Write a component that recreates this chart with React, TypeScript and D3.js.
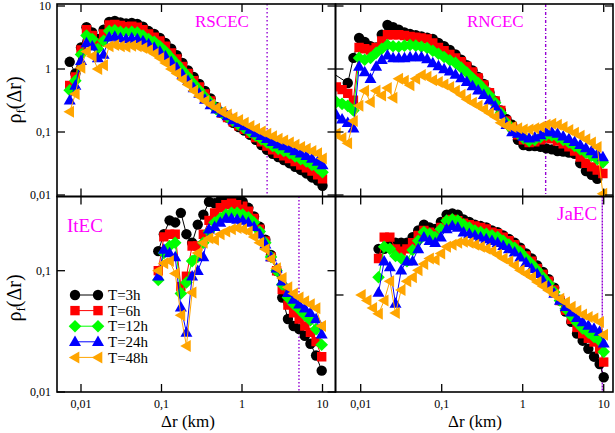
import React from "react";
import * as d3 from "d3";

// ---------- series meta ----------
const seriesLabels = ["T=3h", "T=6h", "T=12h", "T=24h", "T=48h"];
const seriesColors = ["#000000", "#ff0000", "#00ff00", "#0000ff", "#ffa500"];
const seriesShapes = ["circle", "square", "diamond", "triangleUp", "triangleLeft"];

// ---------- RSCEC (top-left) ----------
const rscecDr = [0.00724, 0.00851, 0.01, 0.0117, 0.0138, 0.0162, 0.0191, 0.0224, 0.0263, 0.0309, 0.0363, 0.0427, 0.0501, 0.0589, 0.0692, 0.0813, 0.0955, 0.112, 0.132, 0.155, 0.182, 0.214, 0.251, 0.295, 0.347, 0.407, 0.479, 0.562, 0.661, 0.776, 0.912, 1.07, 1.26, 1.48, 1.74, 2.04, 2.4, 2.82, 3.31, 3.89, 4.57, 5.37, 6.31, 7.41, 8.71, 10.0];
const rscecT3 = [1.3, 0.85, 2.2, 4.6, 3.8, 3.0, 4.2, 5.6, 5.8, 5.5, 5.3, 5.4, 5.2, 4.7, 4.0, 3.6, 3.1, 2.6, 2.1, 1.65, 1.25, 0.95, 0.75, 0.58, 0.45, 0.34, 0.25, 0.2, 0.17, 0.14, 0.12, 0.105, 0.09, 0.075, 0.062, 0.052, 0.045, 0.04, 0.036, 0.032, 0.028, 0.025, 0.022, 0.019, 0.017, 0.014];
const rscecT6 = [0.55, 0.75, 2.0, 4.2, 3.4, 2.6, 3.6, 5.0, 5.1, 4.9, 4.7, 4.8, 4.6, 4.2, 3.6, 3.2, 2.8, 2.3, 1.8, 1.45, 1.1, 0.85, 0.65, 0.52, 0.4, 0.31, 0.24, 0.2, 0.17, 0.145, 0.125, 0.11, 0.095, 0.082, 0.07, 0.06, 0.052, 0.046, 0.042, 0.038, 0.034, 0.03, 0.027, 0.024, 0.021, 0.018];
const rscecT12 = [0.46, 0.65, 1.7, 3.4, 3.0, 2.1, 2.8, 4.0, 4.1, 3.9, 3.8, 3.9, 3.8, 3.4, 3.0, 2.7, 2.3, 1.9, 1.5, 1.2, 0.95, 0.75, 0.58, 0.46, 0.36, 0.29, 0.23, 0.2, 0.175, 0.15, 0.13, 0.115, 0.1, 0.088, 0.077, 0.068, 0.06, 0.054, 0.05, 0.046, 0.041, 0.037, 0.034, 0.03, 0.027, 0.023];
const rscecT24 = [0.32, 0.55, 1.35, 2.6, 2.3, 1.5, 1.7, 3.2, 3.3, 3.1, 3.0, 3.1, 3.0, 2.8, 2.5, 2.2, 1.9, 1.6, 1.3, 1.05, 0.82, 0.65, 0.5, 0.41, 0.33, 0.27, 0.23, 0.2, 0.18, 0.155, 0.14, 0.125, 0.11, 0.097, 0.087, 0.078, 0.07, 0.064, 0.06, 0.055, 0.05, 0.046, 0.042, 0.038, 0.034, 0.03];
const rscecT48 = [0.21, 0.4, 1.05, 1.9, 1.6, 1.0, 1.15, 2.3, 2.4, 2.3, 2.25, 2.35, 2.3, 2.15, 2.0, 1.75, 1.5, 1.25, 1.0, 0.85, 0.68, 0.56, 0.45, 0.37, 0.31, 0.27, 0.24, 0.21, 0.19, 0.17, 0.155, 0.14, 0.125, 0.113, 0.102, 0.094, 0.086, 0.078, 0.073, 0.068, 0.063, 0.058, 0.054, 0.05, 0.046, 0.038];

// ---------- RNCEC (top-right) ----------
const rncecDr = [0.00427, 0.00501, 0.00589, 0.00692, 0.00813, 0.00955, 0.0112, 0.0132, 0.0155, 0.0182, 0.0214, 0.0251, 0.0295, 0.0347, 0.0407, 0.0479, 0.0562, 0.0661, 0.0776, 0.0912, 0.107, 0.126, 0.148, 0.174, 0.204, 0.24, 0.282, 0.331, 0.389, 0.457, 0.537, 0.631, 0.741, 0.871, 1.02, 1.2, 1.41, 1.66, 1.95, 2.29, 2.69, 3.16, 3.72, 4.37, 5.13, 6.03, 7.08, 8.32, 9.77];
const rncecT3 = [0.9, null, null, 0.6, 1.5, 3.1, 2.7, 2.3, 2.2, 3.5, 5.0, 4.6, 4.2, 3.8, 3.6, 3.45, 3.3, 3.15, 3.0, 2.6, 2.3, 2.0, 1.7, 1.4, 1.15, 0.95, 0.75, 0.58, 0.42, 0.31, 0.22, 0.16, 0.13, 0.075, 0.062, 0.06, 0.06, 0.058, 0.055, 0.053, 0.05, 0.049, 0.047, 0.045, 0.032, 0.024, 0.021, 0.018, null];
const rncecT6 = [null, 0.52, 0.47, 0.41, 0.32, 2.2, 2.1, 2.0, 2.2, 2.8, 3.5, 3.5, 3.5, 3.4, 3.3, 3.2, 3.1, 3.0, 2.6, 2.2, 1.95, 1.7, 1.5, 1.3, 1.1, 0.9, 0.72, 0.56, 0.42, 0.31, 0.22, 0.15, 0.12, 0.09, 0.075, 0.068, 0.07, 0.075, 0.08, 0.078, 0.072, 0.065, 0.058, 0.05, 0.04, 0.032, 0.028, 0.025, 0.022];
const rncecT12 = [null, 0.3, 0.28, 0.26, 0.22, 1.5, 1.4, 1.5, 1.8, 2.1, 2.4, 2.3, 2.25, 2.35, 2.4, 2.35, 2.25, 2.15, 1.95, 1.75, 1.55, 1.38, 1.25, 1.05, 0.88, 0.72, 0.6, 0.48, 0.38, 0.29, 0.2, 0.14, 0.11, 0.095, 0.08, 0.072, 0.075, 0.083, 0.09, 0.088, 0.083, 0.075, 0.068, 0.06, 0.053, 0.047, 0.042, 0.037, 0.033];
const rncecT24 = [null, 0.186, 0.16, 0.14, 0.115, 1.1, 0.9, 0.7, 1.1, 1.4, 1.65, 1.5, 1.5, 1.5, 1.55, 1.55, 1.55, 1.45, 1.25, 1.12, 1.0, 0.92, 0.82, 0.72, 0.63, 0.54, 0.46, 0.39, 0.32, 0.26, 0.19, 0.13, 0.1, 0.095, 0.085, 0.08, 0.083, 0.09, 0.1, 0.1, 0.095, 0.086, 0.078, 0.07, 0.063, 0.056, 0.05, 0.045, 0.04];
const rncecT48 = [null, 0.095, 0.08, 0.066, 0.15, 0.26, 0.45, 0.3, 0.45, 0.38, 0.5, 0.35, 0.7, 0.65, 0.55, 0.7, 0.8, 0.75, 0.66, 0.62, 0.57, 0.52, 0.45, 0.39, 0.33, 0.29, 0.26, 0.23, 0.2, 0.175, 0.14, 0.125, 0.12, 0.115, 0.11, 0.11, 0.115, 0.12, 0.13, 0.135, 0.13, 0.12, 0.108, 0.097, 0.087, 0.077, 0.068, 0.058, 0.0105];

// ---------- ItEC (bottom-left) ----------
const itecDr = [0.0912, 0.107, 0.126, 0.148, 0.174, 0.204, 0.24, 0.282, 0.331, 0.389, 0.457, 0.537, 0.631, 0.741, 0.871, 1.02, 1.2, 1.41, 1.66, 1.95, 2.29, 2.69, 3.16, 3.72, 4.37, 5.13, 6.03, 7.08, 8.32, 9.77];
const itecT3 = [0.145, 0.2, 0.26, 0.25, 0.3, 0.2, 0.17, 0.24, 0.29, 0.37, 0.36, 0.38, 0.39, 0.4, 0.39, 0.37, 0.33, 0.28, 0.23, 0.18, 0.135, 0.1, 0.06, 0.04, 0.035, 0.033, 0.029, 0.025, 0.02, 0.015];
const itecT6 = [0.1, 0.19, 0.2, 0.2, 0.074, 0.09, 0.16, 0.16, 0.2, 0.26, 0.3, 0.33, 0.35, 0.36, 0.35, 0.34, 0.31, 0.27, 0.22, 0.175, 0.13, 0.1, 0.07, 0.052, 0.045, 0.04, 0.035, 0.031, 0.026, 0.0195];
const itecT12 = [0.084, 0.14, 0.16, 0.17, 0.065, 0.08, 0.12, 0.13, 0.17, 0.21, 0.25, 0.27, 0.29, 0.3, 0.3, 0.29, 0.275, 0.25, 0.21, 0.17, 0.13, 0.1, 0.077, 0.06, 0.053, 0.048, 0.043, 0.039, 0.033, 0.0245];
const itecT24 = [0.09, 0.15, 0.14, 0.13, 0.05, 0.031, 0.09, 0.1, 0.13, 0.22, 0.23, 0.25, 0.27, 0.27, 0.265, 0.26, 0.25, 0.23, 0.2, 0.165, 0.13, 0.105, 0.082, 0.066, 0.058, 0.053, 0.049, 0.045, 0.04, 0.03];
const itecT48 = [0.1, 0.115, 0.12, 0.095, 0.043, 0.024, 0.066, 0.14, 0.17, 0.185, 0.18, 0.2, 0.21, 0.22, 0.225, 0.22, 0.21, 0.19, 0.17, 0.15, 0.125, 0.105, 0.087, 0.073, 0.065, 0.06, 0.056, 0.053, 0.049, 0.035];

// ---------- JaEC (bottom-right) ----------
const jaecDr = [0.0102, 0.012, 0.0141, 0.0166, 0.0195, 0.0229, 0.0269, 0.0316, 0.0372, 0.0437, 0.0513, 0.0603, 0.0708, 0.0832, 0.0977, 0.115, 0.135, 0.158, 0.186, 0.219, 0.257, 0.302, 0.355, 0.417, 0.49, 0.575, 0.676, 0.794, 0.933, 1.1, 1.29, 1.51, 1.78, 2.09, 2.45, 2.88, 3.39, 3.98, 4.68, 5.5, 6.46, 7.59, 8.91, 10.0];
const jaecT3 = [null, null, null, 0.24, 0.24, 0.26, 0.27, 0.27, 0.27, 0.3, 0.34, 0.38, 0.36, 0.35, 0.4, 0.46, 0.47, 0.46, 0.42, 0.4, 0.38, 0.37, 0.36, 0.34, 0.33, 0.31, 0.29, 0.27, 0.245, 0.22, 0.2, 0.175, 0.155, 0.135, 0.115, 0.09, 0.073, 0.06, 0.048, 0.042, 0.036, 0.031, 0.027, 0.021];
const jaecT6 = [null, null, null, 0.2, 0.3, 0.3, 0.24, 0.23, 0.24, 0.27, 0.31, 0.34, 0.33, 0.32, 0.36, 0.4, 0.42, 0.41, 0.39, 0.38, 0.37, 0.36, 0.35, 0.33, 0.32, 0.3, 0.28, 0.26, 0.235, 0.21, 0.19, 0.165, 0.148, 0.13, 0.11, 0.09, 0.075, 0.063, 0.054, 0.048, 0.044, 0.041, 0.036, 0.028];
const jaecT12 = [null, null, null, 0.14, 0.25, 0.24, 0.21, 0.2, 0.19, 0.235, 0.28, 0.33, 0.32, 0.3, 0.35, 0.41, 0.42, 0.41, 0.38, 0.36, 0.34, 0.33, 0.32, 0.31, 0.3, 0.28, 0.26, 0.245, 0.225, 0.2, 0.18, 0.16, 0.14, 0.124, 0.106, 0.09, 0.077, 0.067, 0.059, 0.053, 0.049, 0.045, 0.042, 0.034];
const jaecT24 = [null, null, null, 0.105, 0.19, 0.17, 0.085, 0.16, 0.19, 0.19, 0.24, 0.3, 0.28, 0.27, 0.3, 0.35, 0.37, 0.36, 0.33, 0.32, 0.31, 0.3, 0.29, 0.28, 0.27, 0.255, 0.24, 0.225, 0.205, 0.185, 0.165, 0.15, 0.132, 0.118, 0.103, 0.09, 0.08, 0.072, 0.065, 0.06, 0.056, 0.053, 0.05, 0.04];
const jaecT48 = [0.1, 0.09, 0.078, 0.07, 0.09, 0.13, 0.071, 0.11, 0.13, 0.14, 0.16, 0.18, 0.2, 0.195, 0.22, 0.25, 0.26, 0.27, 0.275, 0.27, 0.26, 0.25, 0.24, 0.23, 0.215, 0.2, 0.19, 0.175, 0.16, 0.15, 0.14, 0.128, 0.118, 0.109, 0.1, 0.093, 0.087, 0.08, 0.074, 0.069, 0.066, 0.064, 0.06, 0.047];

// ---------- ticks / annotations ----------
const xTicks = [0.01, 0.1, 1, 10];
const yTicksTop = [0.01, 0.1, 1, 10];
const yTicksBL = [0.01, 0.1];
const yTicksBR = [0.1];
const cutoffs = [2.05, 1.92, 5.1, 9.6];
const panelNames = ["RSCEC", "RNCEC", "ItEC", "JaEC"];

const FONT = "'Liberation Serif', 'DejaVu Serif', 'Times New Roman', serif";
const fmt = (v: number) => String(v).replace(".", ",");

function markerPath(shape: string): string {
  switch (shape) {
    case "circle":
      return "M5.2,0A5.2,5.2,0,1,1,-5.2,0A5.2,5.2,0,1,1,5.2,0Z";
    case "square":
      return "M-4.7,-4.7L4.7,-4.7L4.7,4.7L-4.7,4.7Z";
    case "diamond":
      return "M0,-6.3L6.3,0L0,6.3L-6.3,0Z";
    case "triangleUp":
      return "M0,-6.2L6,4.3L-6,4.3Z";
    default:
      return "M-6.2,0L4.3,-6L4.3,6Z";
  }
}

type PanelCfg = {
  key: string;
  name: string;
  dr: number[];
  series: (number | null)[][];
  x0: number; x1: number; y0: number; y1: number;
  xDomain: [number, number];
  yDomain: [number, number];
  yTicks: number[];
  cutoff: number;
  cutDash: string;
  labelX: number; labelY: number; labelSize: number;
  showYLabels: boolean; showXLabels: boolean;
};

const panels: PanelCfg[] = [
  {
    key: "tl", name: panelNames[0], dr: rscecDr,
    series: [rscecT3, rscecT6, rscecT12, rscecT24, rscecT48],
    x0: 57, x1: 335.5, y0: 4, y1: 196.5,
    xDomain: [0.005034, 14.5], yDomain: [0.009467, 10.76],
    yTicks: yTicksTop, cutoff: cutoffs[0], cutDash: "1.5,2.5",
    labelX: 195, labelY: 27, labelSize: 17,
    showYLabels: true, showXLabels: false,
  },
  {
    key: "tr", name: panelNames[1], dr: rncecDr,
    series: [rncecT3, rncecT6, rncecT12, rncecT24, rncecT48],
    x0: 335.5, x1: 613, y0: 4, y1: 196.5,
    xDomain: [0.004885, 13.02], yDomain: [0.009467, 10.76],
    yTicks: yTicksTop, cutoff: cutoffs[1], cutDash: "3,2,1,2",
    labelX: 467, labelY: 27, labelSize: 17,
    showYLabels: false, showXLabels: false,
  },
  {
    key: "bl", name: panelNames[2], dr: itecDr,
    series: [itecT3, itecT6, itecT12, itecT24, itecT48],
    x0: 57, x1: 335.5, y0: 196.5, y1: 392,
    xDomain: [0.005034, 14.5], yDomain: [0.01, 0.409],
    yTicks: yTicksBL, cutoff: cutoffs[2], cutDash: "1.5,2",
    labelX: 67, labelY: 232, labelSize: 19,
    showYLabels: true, showXLabels: true,
  },
  {
    key: "br", name: panelNames[3], dr: jaecDr,
    series: [jaecT3, jaecT6, jaecT12, jaecT24, jaecT48],
    x0: 335.5, x1: 613, y0: 196.5, y1: 392,
    xDomain: [0.004885, 13.02], yDomain: [0.01586, 0.6486],
    yTicks: yTicksBR, cutoff: cutoffs[3], cutDash: "2,1",
    labelX: 557, labelY: 220, labelSize: 19,
    showYLabels: false, showXLabels: true,
  },
];

function Panel({ p }: { p: PanelCfg }) {
  const x = d3.scaleLog().domain(p.xDomain).range([p.x0, p.x1]);
  const y = d3.scaleLog().domain(p.yDomain).range([p.y1, p.y0]);
  const clipId = `clip-${p.key}`;
  const tickLen = 8;
  const line = d3
    .line<[number, number]>()
    .x((d) => x(d[0]))
    .y((d) => y(d[1]));
  return (
    <g>
      <defs>
        <clipPath id={clipId}>
          <rect x={p.x0} y={p.y0} width={p.x1 - p.x0} height={p.y1 - p.y0} />
        </clipPath>
      </defs>
      <g clipPath={`url(#${clipId})`}>
        <line
          x1={x(p.cutoff)} x2={x(p.cutoff)} y1={p.y0} y2={p.y1}
          stroke="#9400d3" strokeWidth={1.4} strokeDasharray={p.cutDash}
        />
        {p.series.map((vals, si) => {
          const pts: [number, number][] = [];
          vals.forEach((v, i) => {
            if (v !== null && v !== undefined) pts.push([p.dr[i], v]);
          });
          return (
            <g key={si}>
              <path d={line(pts) || ""} fill="none" stroke={seriesColors[si]} strokeWidth={1} />
              {pts.map((d, i) => (
                <path
                  key={i}
                  d={markerPath(seriesShapes[si])}
                  transform={`translate(${x(d[0])},${y(d[1])})`}
                  fill={seriesColors[si]}
                />
              ))}
            </g>
          );
        })}
      </g>
      {xTicks.map((t) => (
        <g key={"xt" + t}>
          <line x1={x(t)} x2={x(t)} y1={p.y1} y2={p.y1 - tickLen} stroke="#000" strokeWidth={1.3} />
          <line x1={x(t)} x2={x(t)} y1={p.y0} y2={p.y0 + tickLen} stroke="#000" strokeWidth={1.3} />
          {p.showXLabels && (
            <text x={x(t)} y={p.y1 + 16} textAnchor="middle" fontFamily={FONT} fontSize={12}>
              {fmt(t)}
            </text>
          )}
        </g>
      ))}
      {p.yTicks.map((t) => (
        <g key={"yt" + t}>
          <line x1={p.x0} x2={p.x0 + tickLen} y1={y(t)} y2={y(t)} stroke="#000" strokeWidth={1.3} />
          <line x1={p.x1} x2={p.x1 - tickLen} y1={y(t)} y2={y(t)} stroke="#000" strokeWidth={1.3} />
          {p.showYLabels && (
            <text x={p.x0 - 6} y={y(t)} dy="0.35em" textAnchor="end" fontFamily={FONT} fontSize={12}>
              {fmt(t)}
            </text>
          )}
        </g>
      ))}
      <rect
        x={p.x0} y={p.y0} width={p.x1 - p.x0} height={p.y1 - p.y0}
        fill="none" stroke="#000" strokeWidth={1.6}
      />
      <text x={p.labelX} y={p.labelY} fontFamily={FONT} fontSize={p.labelSize} fill="#ff00ff">
        {p.name}
      </text>
    </g>
  );
}

function Legend() {
  const x0 = 75;
  const x1 = 98;
  const y0 = 295;
  const dy = 15.6;
  return (
    <g>
      {seriesLabels.map((lab, i) => {
        const yy = y0 + i * dy;
        return (
          <g key={lab}>
            <line x1={x0} x2={x1} y1={yy} y2={yy} stroke={seriesColors[i]} strokeWidth={1} />
            <path d={markerPath(seriesShapes[i])} transform={`translate(${x0},${yy})`} fill={seriesColors[i]} />
            <path d={markerPath(seriesShapes[i])} transform={`translate(${x1},${yy})`} fill={seriesColors[i]} />
            <text x={108} y={yy} dy="0.35em" fontFamily={FONT} fontSize={15}>
              {lab}
            </text>
          </g>
        );
      })}
    </g>
  );
}

function YLabel({ cx, cy }: { cx: number; cy: number }) {
  return (
    <text
      transform={`translate(${cx},${cy}) rotate(-90)`}
      textAnchor="middle"
      dy="0.35em"
      fontFamily={FONT}
      fontSize={20}
    >
      ρ<tspan fontSize={13} dy="4">f</tspan>
      <tspan dy="-4">(Δr)</tspan>
    </text>
  );
}

export default function App() {
  return (
    <svg
      width={615}
      height={433}
      style={{ position: "absolute", left: 0, top: 0, background: "#fff" }}
    >
      <rect x={0} y={0} width={615} height={433} fill="#fff" />
      {panels.map((p) => (
        <Panel key={p.key} p={p} />
      ))}
      <Legend />
      <YLabel cx={14} cy={100} />
      <YLabel cx={14} cy={298} />
      <text x={188} y={427} textAnchor="middle" fontFamily={FONT} fontSize={17}>
        Δr (km)
      </text>
      <text x={475} y={427} textAnchor="middle" fontFamily={FONT} fontSize={17}>
        Δr (km)
      </text>
    </svg>
  );
}
